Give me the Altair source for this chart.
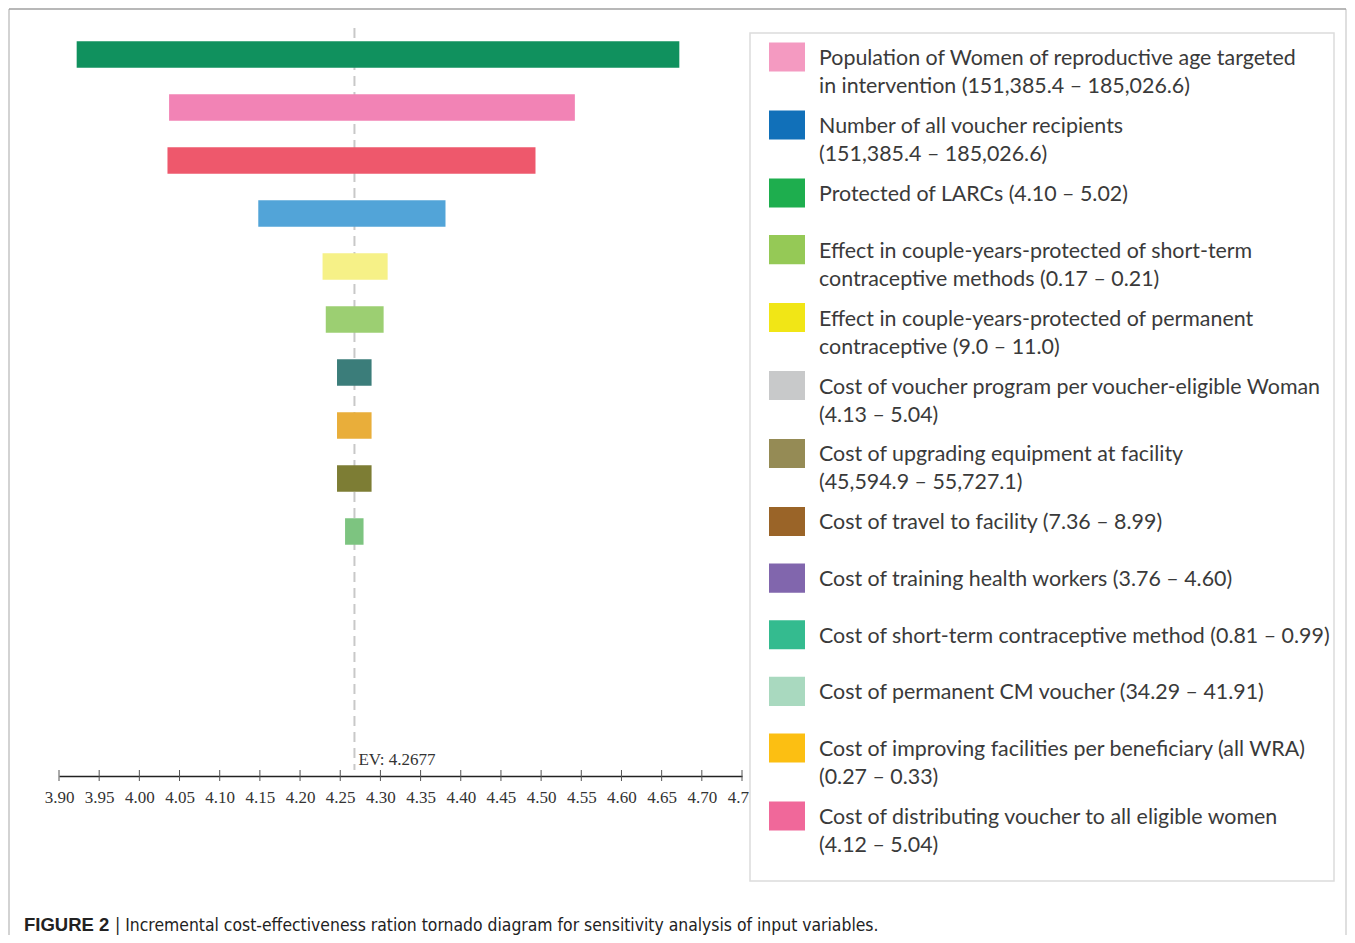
import altair as alt
import pandas as pd

# ---------------- data ----------------
bar_ids = [
    "Protected of LARCs",
    "Population of WRA targeted",
    "Cost of distributing voucher",
    "Number of all voucher recipients",
    "Effect CYP permanent",
    "Effect CYP short-term",
    "Cost of short-term CM",
    "Cost of improving facilities",
    "Cost of upgrading equipment",
    "Cost of permanent CM voucher",
]
bar_low = [3.922, 4.037, 4.035, 4.148, 4.228, 4.232, 4.246, 4.246, 4.246, 4.256]
bar_high = [4.672, 4.542, 4.493, 4.381, 4.309, 4.304, 4.289, 4.289, 4.289, 4.279]
bar_colors = ["#10915e", "#f283b5", "#ee586c", "#52a4d8", "#f6f187",
              "#9ccf72", "#3b7d7a", "#e9ae3a", "#7d7d34", "#7dc480"]
ev_value = 4.2677
ev_label = "EV: 4.2677"
axis_ticks = [3.90, 3.95, 4.00, 4.05, 4.10, 4.15, 4.20, 4.25, 4.30,
              4.35, 4.40, 4.45, 4.50, 4.55, 4.60, 4.65, 4.70, 4.75]

legend_labels = [
    "Population of Women of reproductive age targeted\nin intervention (151,385.4 – 185,026.6)",
    "Number of all voucher recipients\n(151,385.4 – 185,026.6)",
    "Protected of LARCs (4.10 – 5.02)",
    "Effect in couple-years-protected of short-term\ncontraceptive methods (0.17 – 0.21)",
    "Effect in couple-years-protected of permanent\ncontraceptive (9.0 – 11.0)",
    "Cost of voucher program per voucher-eligible Woman\n(4.13 – 5.04)",
    "Cost of upgrading equipment at facility\n(45,594.9 – 55,727.1)",
    "Cost of travel to facility (7.36 – 8.99)",
    "Cost of training health workers (3.76 – 4.60)",
    "Cost of short-term contraceptive method (0.81 – 0.99)",
    "Cost of permanent CM voucher (34.29 – 41.91)",
    "Cost of improving facilities per beneficiary (all WRA)\n(0.27 – 0.33)",
    "Cost of distributing voucher to all eligible women\n(4.12 – 5.04)",
]
legend_colors = ["#f49ac1", "#1170b9", "#1eae4e", "#95c956", "#f1e616",
                 "#c8c9ca", "#958b55", "#9a6428", "#8166ad", "#34bb8f",
                 "#a9d9bf", "#fcbf12", "#f0689a"]

caption_bold = "FIGURE 2"
caption_text = "| Incremental cost-effectiveness ration tornado diagram for sensitivity analysis of input variables."

# ---------------- tables ----------------
bars_df = pd.DataFrame({
    "param": bar_ids, "low": bar_low, "high": bar_high,
    "row": list(range(len(bar_ids))), "color": bar_colors,
})
ticks_df = pd.DataFrame({"t": axis_ticks})

# legend slot positions derived from the number of text lines per entry
pos, p = [], 0.0
for lab in legend_labels:
    pos.append(p)
    p += 1.0 if lab.count("\n") == 0 else 1.2
leg_df = pd.DataFrame({"label": legend_labels, "color": legend_colors, "pos": pos})

one = pd.DataFrame({"k": [0]})
ev_df = pd.DataFrame({"ev": [ev_value], "top": [-0.5], "bottom": [13.5], "lab": [ev_label]})

W, H = 1339, 927
AXIS_Y = 768

xscale = alt.Scale(domain=[3.90, 4.75], range=[51, 734], nice=False, zero=False)
yscale = alt.Scale(domain=[-0.5, 13.5], range=[20, 762], nice=False, zero=False)
lscale = alt.Scale(domain=[0, 13.4], range=[49, 808], nice=False, zero=False)

# ---------------- layers ----------------
frame_left = alt.Chart(one).mark_rule(color="#c4c4c4", strokeWidth=1.5).encode(
    x=alt.value(1), y=alt.value(1), y2=alt.value(H))
frame_right = alt.Chart(one).mark_rule(color="#d4d4d4", strokeWidth=1.5).encode(
    x=alt.value(W - 1), y=alt.value(1), y2=alt.value(H))
frame_top = alt.Chart(one).mark_rule(color="#a0a0a0", strokeWidth=1.5).encode(
    x=alt.value(1), x2=alt.value(W - 1), y=alt.value(1))

bars = alt.Chart(bars_df).transform_calculate(
    y0="datum.row - 0.25", y1="datum.row + 0.25"
).mark_rect().encode(
    x=alt.X("low:Q", scale=xscale, axis=alt.Axis(
        values=axis_ticks, format=".2f", title=None, grid=False,
        offset=AXIS_Y - H, labelFont="Liberation Serif", labelFontSize=17,
        labelColor="#333333", labelPadding=13, domainColor="#222222",
        domainWidth=1.6, ticks=False,
        labelFlush=False, labelOverlap=False)),
    x2="high:Q",
    y=alt.Y("y0:Q", scale=yscale, axis=None),
    y2="y1:Q",
    color=alt.Color("color:N", scale=None),
)

tick_marks = alt.Chart(ticks_df).mark_rule(color="#555555", strokeWidth=1).encode(
    x=alt.X("t:Q", scale=xscale),
    y=alt.value(AXIS_Y - 6), y2=alt.value(AXIS_Y + 5),
)

ev_rule = alt.Chart(ev_df).mark_rule(color="#c8c8c8", strokeWidth=2, strokeDash=[10, 6]).encode(
    x=alt.X("ev:Q", scale=xscale),
    y=alt.Y("top:Q", scale=yscale, axis=None),
    y2="bottom:Q",
)
ev_text = alt.Chart(ev_df).mark_text(
    align="left", baseline="middle", dx=4, dy=-10,
    font="Liberation Serif", fontSize=17, color="#333333"
).encode(
    x=alt.X("ev:Q", scale=xscale),
    y=alt.Y("bottom:Q", scale=yscale, axis=None),
    text="lab:N",
)

legend_box = alt.Chart(one).mark_rect(fill="white", stroke="#dcdcdc", strokeWidth=1.5).encode(
    x=alt.value(742), x2=alt.value(1326), y=alt.value(25), y2=alt.value(873))

legend_sq = alt.Chart(leg_df).transform_calculate(
    s0="datum.pos - 0.257", s1="datum.pos + 0.257"
).mark_rect().encode(
    x=alt.value(761), x2=alt.value(797),
    y=alt.Y("s0:Q", scale=lscale, axis=None),
    y2="s1:Q",
    color=alt.Color("color:N", scale=None),
)
legend_txt = alt.Chart(leg_df).mark_text(
    align="left", baseline="top", dy=-9, lineBreak="\n", lineHeight=28,
    font="Lato", fontSize=21.4, color="#3a3a3a"
).encode(
    x=alt.value(811),
    y=alt.Y("pos:Q", scale=lscale, axis=None),
    text="label:N",
)

cap1 = alt.Chart(one).mark_text(
    align="left", baseline="alphabetic", font="Liberation Sans", fontSize=18.5,
    fontWeight="bold", color="#222222"
).encode(x=alt.value(16), y=alt.value(923), text=alt.value(caption_bold))
cap2 = alt.Chart(one).mark_text(
    align="left", baseline="alphabetic",
    font="Liberation Sans Narrow, DejaVu Sans Condensed, sans-serif",
    fontSize=17.4, color="#222222"
).encode(x=alt.value(107), y=alt.value(923), text=alt.value(caption_text))

chart = alt.layer(
    frame_left, frame_right, frame_top,
    ev_rule, bars, tick_marks, ev_text,
    legend_box, legend_sq, legend_txt,
    cap1, cap2,
).resolve_scale(y="independent").properties(
    width=W, height=H, padding=0,
    autosize=alt.AutoSizeParams(type="none"),
    background="white",
).configure_view(stroke=None)

chart.save("out.html", embed_options={"renderer": "svg", "actions": False})
